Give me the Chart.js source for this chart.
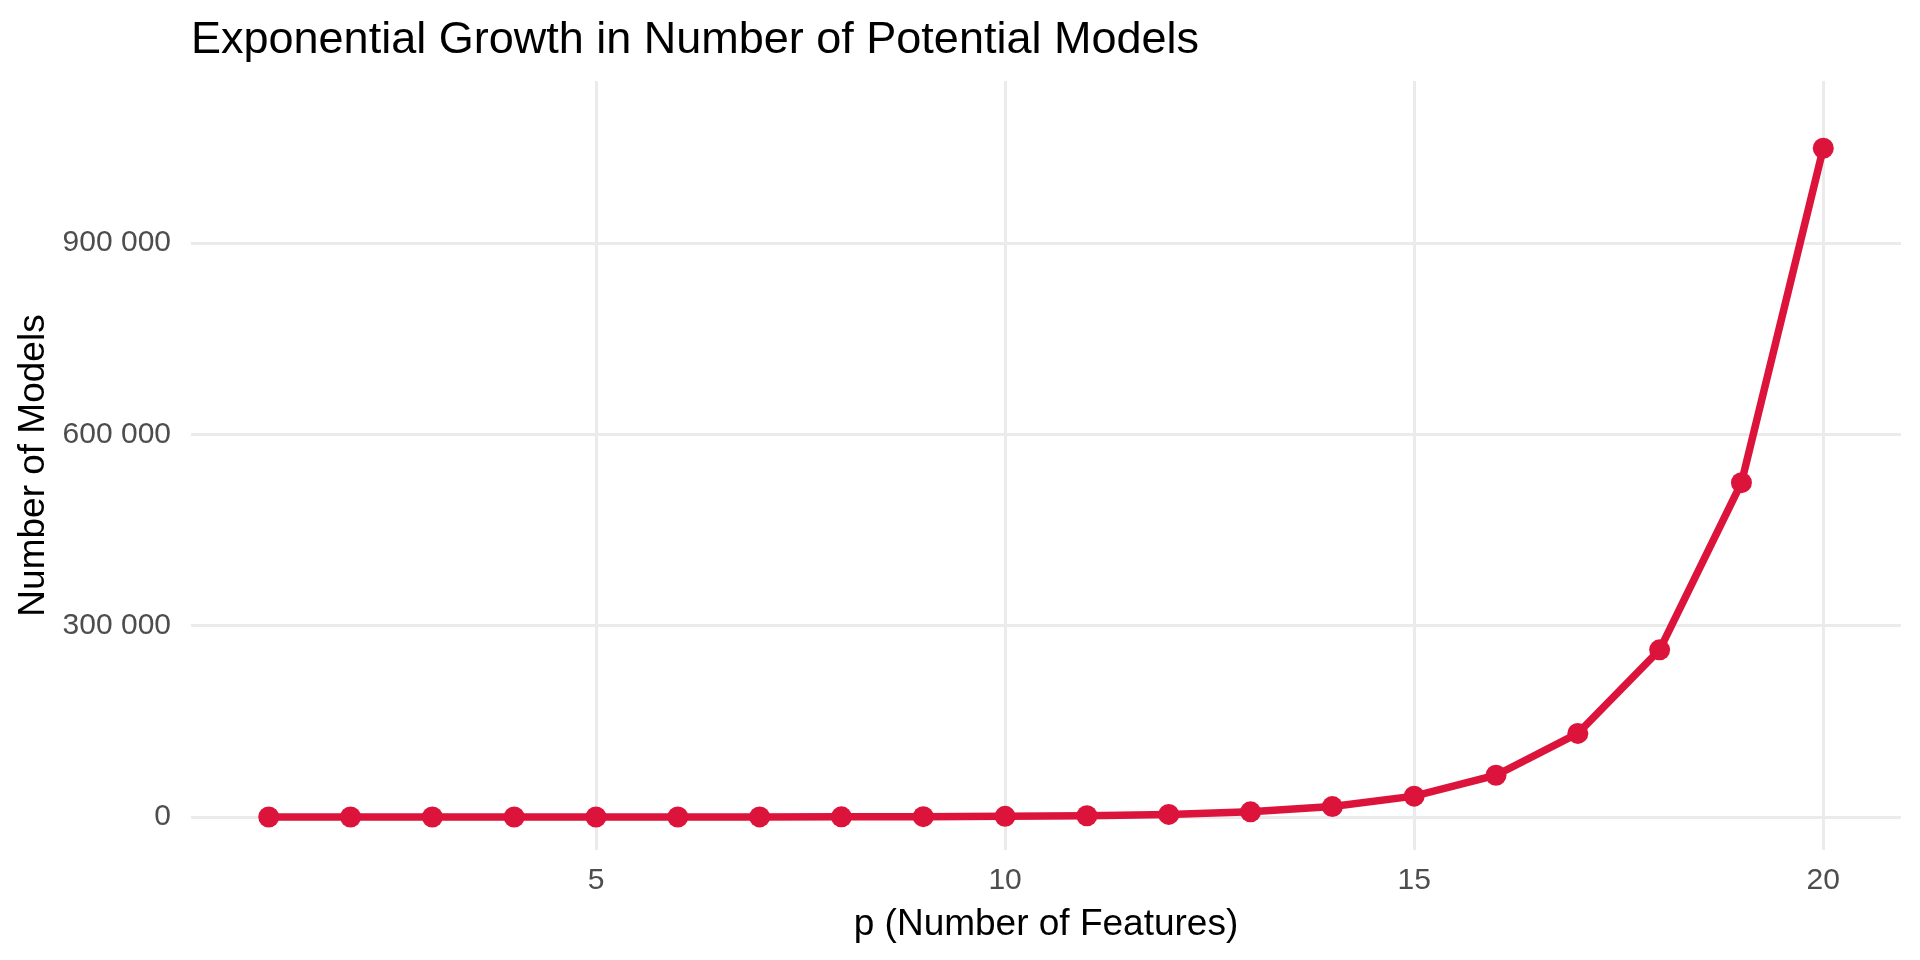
<!DOCTYPE html>
<html lang="en">
<head>
  <meta charset="UTF-8" />
  <title>Exponential Growth in Number of Potential Models</title>
  <script src="https://cdn.jsdelivr.net/npm/chart.js"></script>
  <style>
    body {
      margin: 0;
      background: #fff;
    }
    .wrap {
      width: 1920px;
      height: 960px;
    }
  </style>
</head>
<body>
  <div class="wrap">
    <canvas id="growthChart"></canvas>
  </div>

  <script>
    // values
    const features = [1, 2, 3, 4, 5, 6, 7, 8, 9, 10, 11, 12, 13, 14, 15, 16, 17, 18, 19, 20];
    const models = [2, 4, 8, 16, 32, 64, 128, 256, 512, 1024, 2048, 4096, 8192, 16384,
                    32768, 65536, 131072, 262144, 524288, 1048576];
    const xTicks = [5, 10, 15, 20];
    const yTicks = [0, 300000, 600000, 900000];

    const FONT = '"Liberation Sans", Arial, Helvetica, sans-serif';
    const titleText = 'Exponential Growth in Number of Potential Models';

    // ggplot-style title, left-aligned to the panel
    const panelTitle = {
      id: 'panelTitle',
      afterDraw(chart) {
        const ctx = chart.ctx;
        ctx.save();
        ctx.font = '45px ' + FONT;
        ctx.fillStyle = '#000';
        ctx.textAlign = 'left';
        ctx.textBaseline = 'alphabetic';
        ctx.fillText(titleText, chart.chartArea.left, 53);
        ctx.restore();
      }
    };

    function spaced(v) {
      return String(v).replace(/\B(?=(\d{3})+(?!\d))/g, ' ');
    }

    const ctx = document.getElementById('growthChart').getContext('2d');
    new Chart(ctx, {
      type: 'line',
      data: {
        datasets: [{
          data: features.map((p, i) => ({ x: p, y: models[i] })),
          borderColor: '#DC143C',
          backgroundColor: '#DC143C',
          borderWidth: 7.5,
          pointRadius: 10.5,
          pointHoverRadius: 10.5,
          pointBorderWidth: 0,
          tension: 0,
          fill: false
        }]
      },
      options: {
        responsive: true,
        maintainAspectRatio: false,
        devicePixelRatio: 1,
        animation: false,
        layout: {
          padding: { top: 81, right: 19, bottom: 0, left: 0 }
        },
        plugins: {
          legend: { display: false },
          tooltip: { enabled: false }
        },
        scales: {
          x: {
            type: 'linear',
            min: 0.05,
            max: 20.95,
            afterBuildTicks: s => { s.ticks = xTicks.map(v => ({ value: v })); },
            afterFit: s => { s.height = 110; },
            border: { display: false },
            grid: { color: '#EBEBEB', lineWidth: 3, drawTicks: false },
            ticks: {
              padding: 13,
              color: '#4D4D4D',
              font: { family: FONT, size: 30 }
            },
            title: {
              display: true,
              text: 'p (Number of Features)',
              color: '#000',
              font: { family: FONT, size: 37, lineHeight: 1.2 },
              padding: { top: 0, bottom: 13 }
            }
          },
          y: {
            min: -51700,
            max: 1154000,
            afterBuildTicks: s => { s.ticks = yTicks.map(v => ({ value: v })); },
            afterFit: s => { s.width = 191; },
            border: { display: false },
            grid: { color: '#EBEBEB', lineWidth: 3, drawTicks: false },
            ticks: {
              padding: 20,
              color: '#4D4D4D',
              font: { family: FONT, size: 30 },
              callback: v => spaced(v)
            },
            title: {
              display: true,
              text: 'Number of Models',
              color: '#000',
              font: { family: FONT, size: 37, lineHeight: 1.2 },
              padding: { top: 12, bottom: 0 }
            }
          }
        }
      },
      plugins: [panelTitle]
    });
  </script>
</body>
</html>
